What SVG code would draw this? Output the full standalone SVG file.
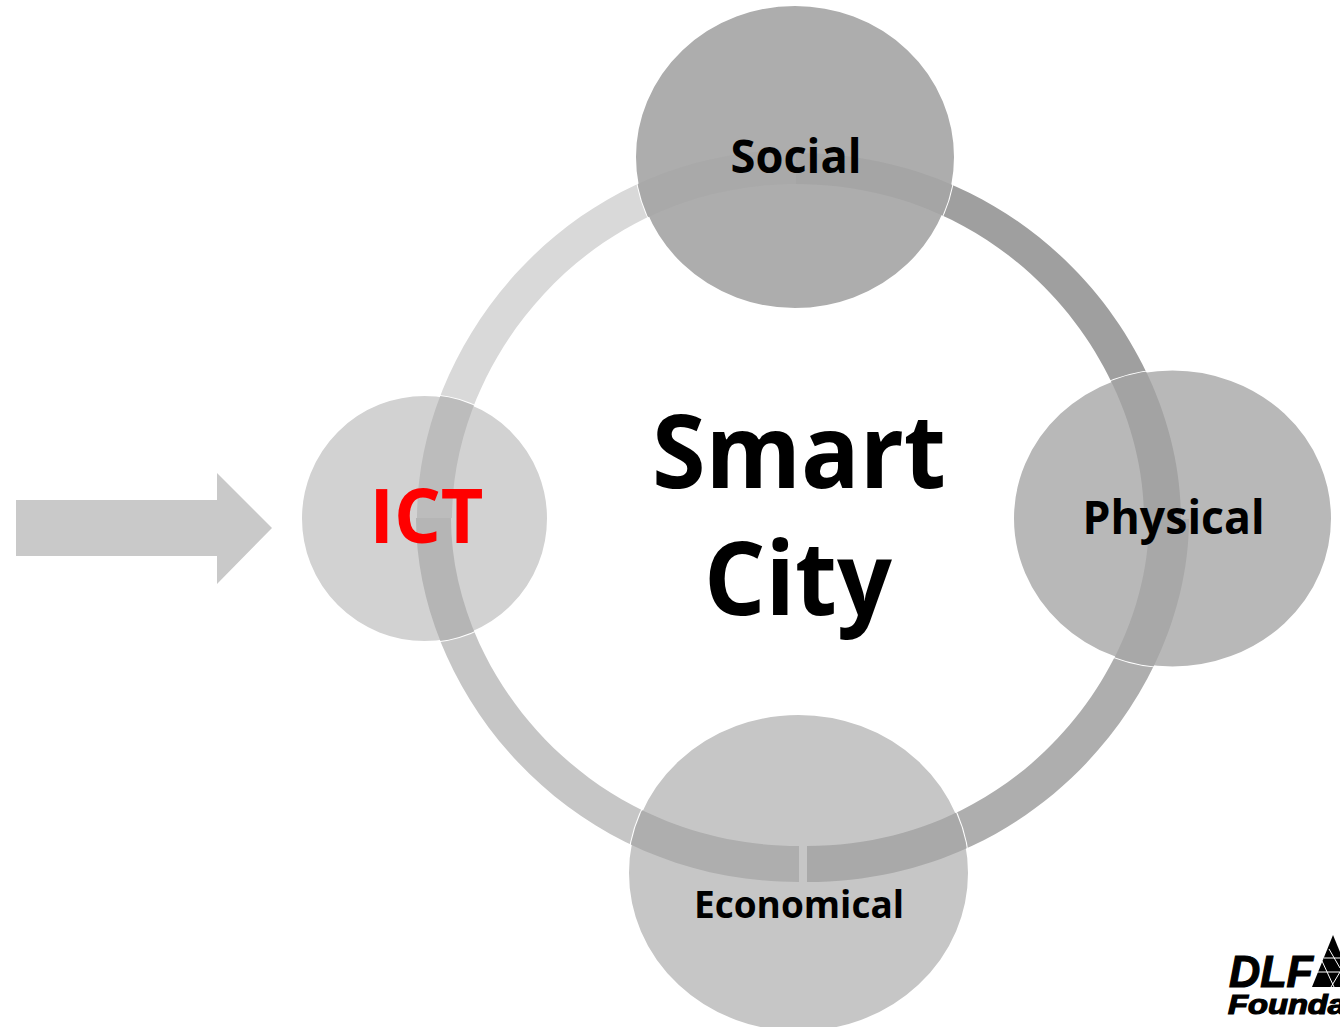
<svg xmlns="http://www.w3.org/2000/svg" width="1340" height="1027" viewBox="0 0 1340 1027">
<style>
.t{font-family:"Open Sans","Noto Sans","DejaVu Sans",sans-serif;font-weight:700;text-anchor:middle;fill:#000}
.h{stroke:#fff;stroke-width:2}
.l{font-family:"Liberation Sans",Arial,sans-serif;font-weight:700;font-style:italic;fill:#000;stroke:#000;stroke-width:1.2}
</style>
<defs>
<path id="tl" d="M417 518C417 341 569 150 796 150L796 184C590 184 452 358 452 518Z"/>
<path id="tr" d="M796 153C1027 153 1181 343 1181 519L1144 519C1144 358 1005 184 796 184Z"/>
<path id="br" d="M1189 519C1189 693 1036 882 807 882L807 846C1012 846 1149 676 1149 519Z"/>
<path id="bl" d="M799 882C569 882 416 693 416 518L451 518C451 675 590 846 799 846Z"/>
<clipPath id="cS"><ellipse cx="795" cy="157" rx="160" ry="152"/></clipPath>
<clipPath id="cP"><ellipse cx="1172.500" cy="518.500" rx="159.500" ry="149"/></clipPath>
<clipPath id="cE"><ellipse cx="798.500" cy="873" rx="170.500" ry="159"/></clipPath>
<clipPath id="cI"><circle cx="424.500" cy="518.500" r="123.500"/></clipPath>
</defs>
<rect width="1340" height="1027" fill="#fff"/>
<g id="connectors">
<use href="#tl" fill="#d9d9d9"/>
<use href="#tr" fill="#9f9f9f"/>
<use href="#br" fill="#aeaeae"/>
<use href="#bl" fill="#c6c6c6"/>
<polygon id="arrow" points="16,500 217,500 217,473 272,528 217,584 217,556 16,556" fill="#c9c9c9"/>
</g>
<g id="social"><ellipse class="h" cx="795" cy="157" rx="160" ry="152" fill="#adadad"/>
<g clip-path="url(#cS)"><use href="#tl" fill="#a9a9a9"/><use href="#tr" fill="#a5a5a5"/></g>
<text class="t" x="796" y="173" font-size="46" textLength="131" lengthAdjust="spacingAndGlyphs">Social</text></g>
<g id="physical"><ellipse class="h" cx="1172.500" cy="518.500" rx="159.500" ry="149" fill="#b8b8b8"/>
<g clip-path="url(#cP)"><use href="#tr" fill="#a3a3a3"/><use href="#br" fill="#a8a8a8"/></g>
<text class="t" x="1173.500" y="534" font-size="46" textLength="182" lengthAdjust="spacingAndGlyphs">Physical</text></g>
<g id="economical"><ellipse class="h" cx="798.500" cy="873" rx="170.500" ry="159" fill="#c6c6c6"/>
<g clip-path="url(#cE)"><use href="#bl" fill="#aeaeae"/><use href="#br" fill="#a9a9a9"/></g>
<text class="t" x="799" y="918" font-size="37">Economical</text></g>
<g id="ict"><circle class="h" cx="424.500" cy="518.500" r="123.500" fill="#d2d2d2"/>
<g clip-path="url(#cI)"><use href="#tl" fill="#bcbcbc"/><use href="#bl" fill="#b5b5b5"/></g>
<text class="t" x="426.500" y="543" font-size="76" textLength="114" lengthAdjust="spacingAndGlyphs" style="fill:#f00">ICT</text></g>
<g id="center"><text class="t" x="799" y="488" font-size="102" textLength="294" lengthAdjust="spacingAndGlyphs">Smart</text>
<text class="t" x="798" y="615" font-size="102" textLength="188" lengthAdjust="spacingAndGlyphs">City</text></g>
<g id="logo">
<polygon points="1333,935 1312,987 1340,987 1340,952" fill="#000"/>
<path d="M1322 961L1334 987M1316 972H1340M1340 958H1324M1340 972L1331 987M1329 949L1340 968" stroke="#fff" stroke-width="1" fill="none"/>
<text class="l" x="1229" y="987" font-size="44" textLength="84" lengthAdjust="spacingAndGlyphs">DLF</text>
<text class="l" x="1228" y="1014" font-size="27" textLength="118" lengthAdjust="spacingAndGlyphs">Founda</text>
</g>
</svg>
